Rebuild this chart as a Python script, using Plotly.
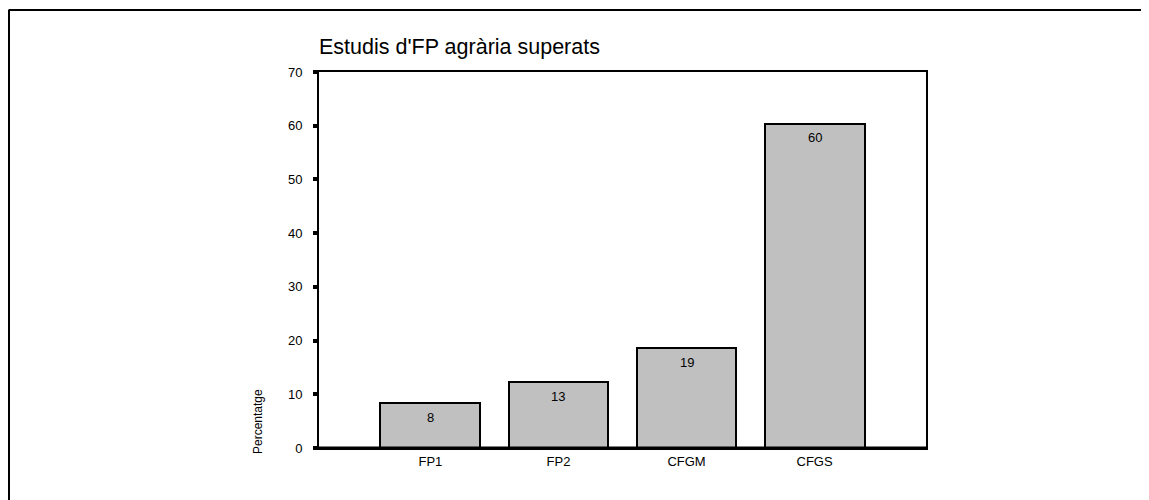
import plotly.graph_objects as go

categories = ["FP1", "FP2", "CFGM", "CFGS"]
values = [8.3, 12.2, 18.6, 60.4]
labels = ["8", "13", "19", "60"]
y_ticks = [0, 10, 20, 30, 40, 50, 60, 70]

OFF = 8  # page body margin
W, H = 1149 - OFF, 500 - OFF
L, R, T, B = 319 - OFF, 926 - OFF, 72 - OFF, 448 - OFF
pw, ph = R - L, B - T

def px(x):
    return (x - OFF - L) / pw

def py(y):
    return (B - (y - OFF)) / ph

fig = go.Figure()
fig.add_trace(go.Bar(
    x=list(range(len(categories))), y=values,
    marker=dict(color="#c0c0c0", line=dict(color="black", width=2)),
    width=0.78, showlegend=False, cliponaxis=False,
))

for i, (v, lab) in enumerate(zip(values, labels)):
    fig.add_annotation(x=i, y=v, text=lab, showarrow=False, yshift=-14,
                       xanchor="center", yanchor="middle",
                       font=dict(family="Liberation Sans, Arial", size=13, color="black"))

fig.update_layout(
    width=W, height=H,
    margin=dict(l=L, r=W - R, t=T, b=H - B, pad=0),
    paper_bgcolor="white", plot_bgcolor="white",
    font=dict(family="Liberation Sans, Arial", color="black"),
    title=dict(text="Estudis d'FP agrària superats", x=px(319), xref="paper", xanchor="left",
               y=1 - (46 - OFF) / H, yanchor="middle", font=dict(size=21.5, color="black")),
    xaxis=dict(range=[-0.87, 3.87], tickvals=list(range(len(categories))), ticktext=categories,
               showgrid=False, zeroline=False, showline=True, linecolor="black", linewidth=2,
               mirror=True, ticks="", tickfont=dict(size=13)),
    yaxis=dict(range=[0, 70], tickvals=y_ticks, showgrid=False, zeroline=False,
               showline=True, linecolor="black", linewidth=2, mirror=True,
               ticks="outside", ticklen=4, tickwidth=4, tickcolor="black",
               tickfont=dict(size=13), ticklabelstandoff=8),
    bargap=0,
)

fig.add_annotation(text="Percentatge", xref="paper", yref="paper", x=px(258), y=py(422),
                   showarrow=False, textangle=-90, font=dict(size=12, color="black"),
                   xanchor="center", yanchor="middle")

# thick bottom axis line
fig.add_shape(type="line", xref="paper", yref="paper", x0=0, x1=1, y0=0, y1=0,
              line=dict(color="black", width=3))
# outer frame (top and left)
fig.add_shape(type="line", xref="paper", yref="paper", x0=px(8.5), x1=px(1160), y0=py(10), y1=py(10),
              line=dict(color="black", width=2))
fig.add_shape(type="line", xref="paper", yref="paper", x0=px(9), x1=px(9), y0=py(10), y1=py(520),
              line=dict(color="black", width=2))

fig.write_html("out.html")
